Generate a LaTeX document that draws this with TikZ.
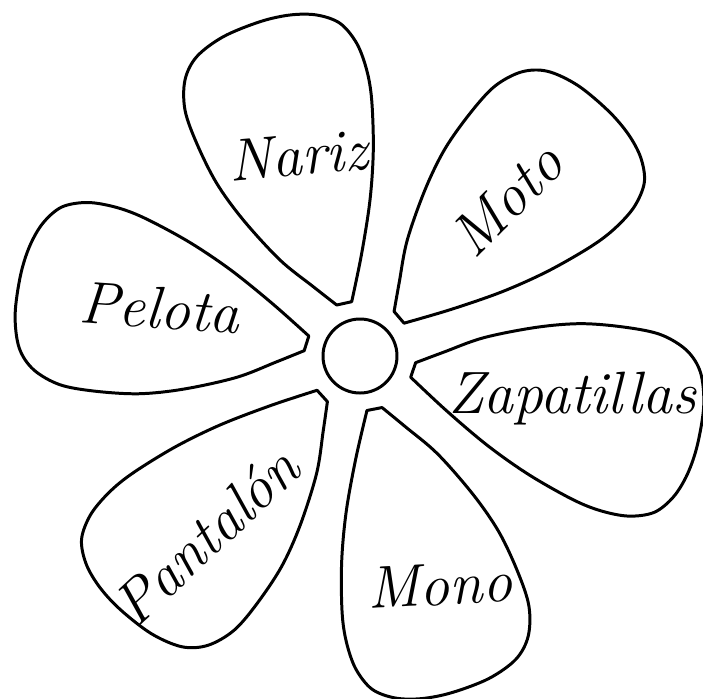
\documentclass[tikz,border=0pt]{standalone}
\usepackage{tikz}

\begin{document}
\begin{tikzpicture}[
	line cap=round,
	line join=round,
	draw=black,
	line width=1.7pt,
	word/.style={font=\fontsize{34}{40}\selectfont\itshape, inner sep=0pt}
	]
	
	\useasboundingbox (-7.2,-6.84) rectangle (6.86,7.12);
	
	% Petals, all one shape turned round the centre
	\foreach \r in {0,-62,-121.4,-181.4,-240.1,60}
	\draw[rotate=\r] plot[smooth, tension=0.55] coordinates {
		(-0.466,1.02) (-0.934,1.386) (-1.6,1.92) (-2.334,2.72) (-2.866,3.454)
		(-3.266,4.254) (-3.5,4.92) (-3.5,5.52) (-3.266,5.986) (-2.734,6.386)
		(-2.0,6.686) (-1.4,6.82) (-0.866,6.82) (-0.4,6.654) (-0.066,6.254)
		(0.134,5.72) (0.234,5.12) (0.266,4.12) (0.2,3.12) (0.034,2.054)
		(-0.166,1.086)} -- cycle;
	
	% Centre
	\node[draw, circle, minimum size=1.48cm, line width=1.7pt] (centro) at (0,0) {};
	
	% Words
	\node[word, rotate=5] (nariz) at (-1.24,4.02) {Nariz};
	\node[word, rotate=45] (moto) at (2.94,3.12) {Moto};
	\node[word, rotate=-4] (pelota) at (-4.0,0.96) {Pelota};
	\node[word] (zapatillas) at (4.24,-0.86) {Zapatillas};
	\node[word, rotate=3] (mono) at (1.6,-4.58) {Mono};
	\node[word, rotate=43] (pantalon) at (-3.08,-3.6) {Pantalón};
	
\end{tikzpicture}
\end{document}
